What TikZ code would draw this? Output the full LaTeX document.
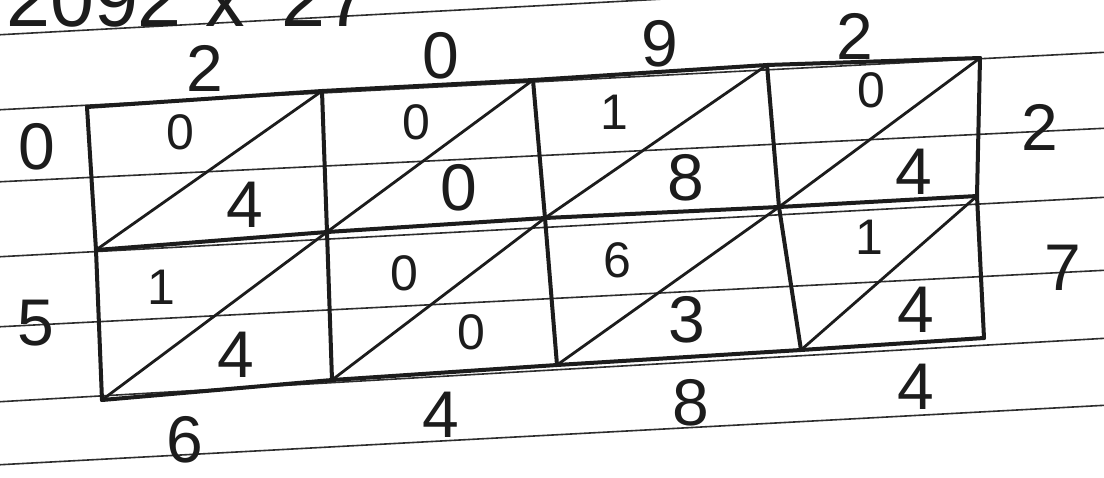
\documentclass[tikz,border=0pt]{standalone}
\usepackage{fontspec}
\setmainfont{Liberation Sans}
\definecolor{ink}{RGB}{28,28,28}
\definecolor{rule}{RGB}{45,45,45}
\tikzset{
  frame/.style={draw=ink,line width=4pt,line cap=round,line join=round},
  slash/.style={draw=ink,line width=2.8pt,line cap=round},
  ruled/.style={draw=rule,line width=1.6pt},
  big/.style={font=\fontsize{66}{66}\selectfont,text=ink,inner sep=0pt},
  small/.style={font=\fontsize{50}{50}\selectfont,text=ink,inner sep=0pt},
  head/.style={font=\fontsize{79}{79}\selectfont,text=ink,inner sep=0pt},
}
\begin{document}
\begin{tikzpicture}[x=1pt,y=-1pt]
  \useasboundingbox (0,0) rectangle (1104,477);
  \clip (0,0) rectangle (1104,477);
  \fill[white] (0,0) rectangle (1104,477);

  % lines of the paper
  \foreach \yl/\yr in {35/-25,110/52,182/128,257/197,327/270,402/338,465/405}
    \draw[ruled] (-5,\yl) -- (1110,\yr);

  % the sum, cut off at the top
  \node[head,anchor=base west] (task) at (6,26) {2092\hspace{24pt}x\hspace{36pt}27};

  % corners of the lattice
  \foreach \c/\x/\y in {0/87/107,1/322/91,2/533/80,3/767/65,4/980/58}
    \coordinate (t\c) at (\x,\y);
  \foreach \c/\x/\y in {0/96/250,1/327/232,2/545/218,3/779/207,4/977/196}
    \coordinate (m\c) at (\x,\y);
  \foreach \c/\x/\y in {0/102/400,1/332/380,2/557/365,3/801/350,4/984/338}
    \coordinate (b\c) at (\x,\y);

  \draw[frame] (t0) -- (t1) -- (t2) -- (t3) -- (t4);
  \draw[frame] (m0) -- (m1) -- (m2) -- (m3) -- (m4);
  \draw[frame] (b0) -- (b1) -- (b2) -- (b3) -- (b4);
  \foreach \c in {0,...,4}
    \draw[frame] (t\c) -- (m\c) -- (b\c);
  \foreach \c/\n in {0/1,1/2,2/3,3/4} {
    \draw[slash] (m\c) -- (t\n);
    \draw[slash] (b\c) -- (m\n);
  }

  % factors
  \node[big] (top1) at (205,68) {2};
  \node[big] (top2) at (441,56) {0};
  \node[big] (top3) at (660,44) {9};
  \node[big] (top4) at (855,36) {2};
  \node[big] (rgt1) at (1040,127) {2};
  \node[big] (rgt2) at (1063,268) {7};

  % cells, upper row
  \node[small] (c11a) at (180,132) {0};
  \node[big] (c11b) at (245,205) {4};
  \node[small] (c12a) at (416,122) {0};
  \node[big] (c12b) at (459,188) {0};
  \node[small] (c13a) at (614,112) {1};
  \node[big] (c13b) at (686,178) {8};
  \node[small] (c14a) at (871,90) {0};
  \node[big] (c14b) at (914,172) {4};
  % cells, lower row
  \node[small] (c21a) at (161,287) {1};
  \node[big] (c21b) at (236,355) {4};
  \node[small] (c22a) at (404,273) {0};
  \node[small] (c22b) at (471,332) {0};
  \node[small] (c23a) at (617,260) {6};
  \node[big] (c23b) at (687,320) {3};
  \node[small] (c24a) at (869,237) {1};
  \node[big] (c24b) at (916,310) {4};

  % answer digits
  \node[big] (lft1) at (37,147) {0};
  \node[big] (lft2) at (36,323) {5};
  \node[big] (bot1) at (185,440) {6};
  \node[big] (bot2) at (441,415) {4};
  \node[big] (bot3) at (691,403) {8};
  \node[big] (bot4) at (916,387) {4};
\end{tikzpicture}
\end{document}
